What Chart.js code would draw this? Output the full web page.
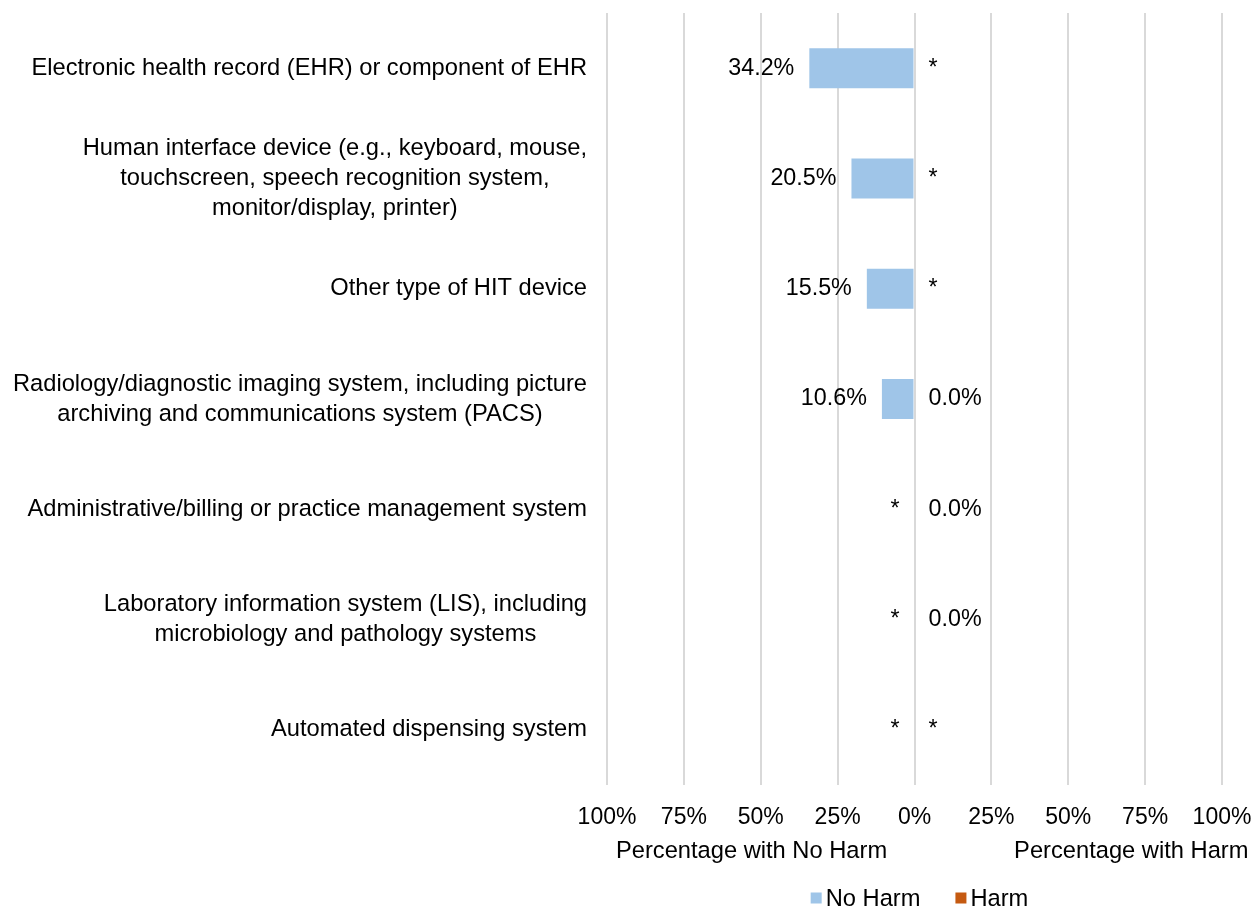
<!DOCTYPE html>
<html>
<head>
<meta charset="utf-8">
<script src="https://cdn.jsdelivr.net/npm/chart.js@4.4.1/dist/chart.umd.min.js"></script>
<style>
  html, body { margin: 0; padding: 0; background: #ffffff; }
  #wrap { width: 1252px; height: 911px; position: relative; }
</style>
</head>
<body>
<div id="wrap"><canvas id="c" width="1252" height="911"></canvas></div>
<script>
// ---- Data ----
const categories = [
  "Electronic health record (EHR) or component of EHR",
  ["Human interface device (e.g., keyboard, mouse,", "touchscreen, speech recognition system,", "monitor/display, printer)"],
  "Other type of HIT device",
  ["Radiology/diagnostic imaging system, including picture", "archiving and communications system (PACS)"],
  "Administrative/billing or practice management system",
  ["Laboratory information system (LIS), including", "microbiology and pathology systems"],
  "Automated dispensing system"
];
const seriesNames = ["No Harm", "Harm"];
// null = suppressed value, shown as "*"
const noHarmPct = [34.2, 20.5, 15.5, 10.6, null, null, null];
const harmPct = [null, null, null, 0.0, 0.0, 0.0, null];
const xTickValues = [-100, -75, -50, -25, 0, 25, 50, 75, 100];
const axisTitles = ["Percentage with No Harm", "Percentage with Harm"];

const FONT = '"Liberation Sans", Arial, Helvetica, sans-serif';
const TEXT = '#000000';
const LABEL_PX = 23.7;

const customDraw = {
  id: 'customDraw',
  afterDraw(chart) {
    const ctx = chart.ctx;
    const xs = chart.scales.x, ys = chart.scales.y, area = chart.chartArea;
    ctx.save();
    ctx.font = LABEL_PX + 'px ' + FONT;
    ctx.fillStyle = TEXT;
    ctx.textBaseline = 'middle';

    // Category labels: block right-aligned, lines centered within block
    categories.forEach((lab, i) => {
      const lines = Array.isArray(lab) ? lab : [lab];
      const w = Math.max(...lines.map(l => ctx.measureText(l).width));
      const cx = area.left - 20 - w / 2;
      const cy = ys.getPixelForValue(i);
      const lh = 30;
      ctx.textAlign = 'center';
      lines.forEach((l, k) => ctx.fillText(l, cx, cy + (k - (lines.length - 1) / 2) * lh));
    });

    // Value labels
    ctx.font = '23.3px ' + FONT;
    const fmt = v => (v === null || v === undefined) ? '*' : v.toFixed(1) + '%';
    noHarmPct.forEach((v, i) => {
      const px = xs.getPixelForValue(v === null ? 0 : -v) - 15;
      ctx.textAlign = 'right';
      ctx.fillText(fmt(v), px, ys.getPixelForValue(i));
    });
    harmPct.forEach((v, i) => {
      const px = xs.getPixelForValue(v === null ? 0 : v) + 14;
      ctx.textAlign = 'left';
      ctx.fillText(fmt(v), px, ys.getPixelForValue(i));
    });

    // Axis titles
    ctx.font = LABEL_PX + 'px ' + FONT;
    ctx.textAlign = 'center';
    ctx.fillText(axisTitles[0], xs.getPixelForValue(-53), 851);
    ctx.fillText(axisTitles[1], xs.getPixelForValue(70.5), 851);

    // Legend
    const items = chart.data.datasets.map(d => ({ text: d.label, color: d.backgroundColor }));
    const box = 11, gapBox = 4, gapItem = 35;
    const widths = items.map(it => box + gapBox + ctx.measureText(it.text).width);
    const total = widths.reduce((a, b) => a + b, 0) + gapItem * (items.length - 1);
    let lx = (area.left + area.right) / 2 + 5 - total / 2;
    const ly = 898;
    ctx.textAlign = 'left';
    items.forEach((it, k) => {
      ctx.fillStyle = it.color;
      ctx.fillRect(lx, ly - box / 2, box, box);
      ctx.fillStyle = TEXT;
      ctx.fillText(it.text, lx + box + gapBox, ly + 1);
      lx += widths[k] + gapItem;
    });
    ctx.restore();
  }
};

new Chart(document.getElementById('c'), {
  type: 'bar',
  data: {
    labels: categories.map(c => Array.isArray(c) ? c.join(' ') : c),
    datasets: [
      {
        label: seriesNames[0],
        data: noHarmPct.map(v => v === null ? null : -v),
        backgroundColor: '#9FC5E8',
        barThickness: 40,
        inflateAmount: 0,
        borderWidth: 0
      },
      {
        label: seriesNames[1],
        data: harmPct,
        backgroundColor: '#C55A11',
        barThickness: 40,
        inflateAmount: 0,
        borderWidth: 0
      }
    ]
  },
  options: {
    indexAxis: 'y',
    responsive: false,
    animation: false,
    layout: { padding: { top: 13, right: 30, left: 0, bottom: 0 } },
    plugins: {
      legend: { display: false },
      tooltip: { enabled: false }
    },
    scales: {
      x: {
        stacked: true,
        min: -100,
        max: 100,
        afterBuildTicks: s => { s.ticks = xTickValues.map(v => ({ value: v })); },
        afterFit: s => { s.height = 126; s.paddingLeft = 0; s.paddingRight = 0; },
        ticks: {
          callback: v => Math.abs(v) + '%',
          font: { family: FONT, size: 23 },
          color: TEXT,
          padding: 19,
          maxRotation: 0,
          autoSkip: false
        },
        grid: { color: '#D9D9D9', lineWidth: 2, drawTicks: false },
        border: { display: false }
      },
      y: {
        stacked: true,
        afterFit: s => { s.width = 607; },
        ticks: { display: false },
        grid: { display: false },
        border: { display: false }
      }
    }
  },
  plugins: [customDraw]
});
</script>
</body>
</html>
